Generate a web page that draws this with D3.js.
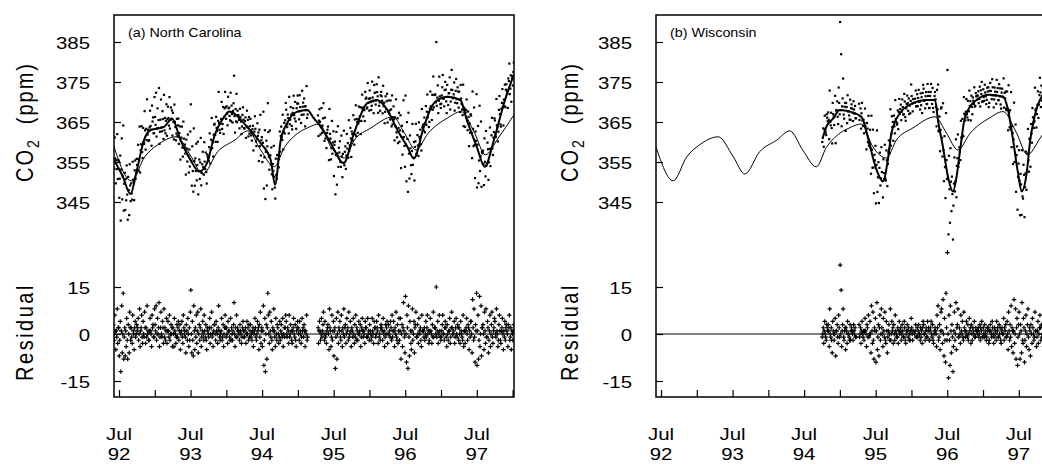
<!DOCTYPE html>
<html>
<head>
<meta charset="utf-8">
<script src="https://cdn.jsdelivr.net/npm/d3@7"></script>
<style>
  html, body { margin: 0; padding: 0; background: #fff; }
  svg { display: block; font-family: "Liberation Sans", Arial, sans-serif; }
</style>
</head>
<body>
<svg id="chart" width="1042" height="464"></svg>
<script>
const co2Ticks = [345, 355, 365, 375, 385];
const residualTicks = [-15, 0, 15];
const axisTimes = [1992.5, 1993, 1993.5, 1994, 1994.5, 1995, 1995.5, 1996, 1996.5, 1997, 1997.5, 1998];
const julyTimes = [1992.5, 1993.5, 1994.5, 1995.5, 1996.5, 1997.5];
const yearLabels = ['92', '93', '94', '95', '96', '97'];

// thin reference curve (same in both panels)
const refTime = [1992.43, 1992.67, 1992.86, 1993.04, 1993.30, 1993.51, 1993.67, 1993.88, 1994.12, 1994.30,
  1994.48, 1994.67, 1994.81, 1995.00, 1995.13, 1995.30, 1995.46, 1995.65, 1995.79, 1996.02,
  1996.33, 1996.49, 1996.65, 1996.82, 1997.09, 1997.28, 1997.47, 1997.62, 1997.80, 1998.02];
const refCO2 = [358.8, 350.3, 356.3, 359.3, 361.3, 356.3, 352.0, 357.6, 360.5, 362.8,
  358.0, 353.8, 358.6, 362.2, 363.5, 364.5, 358.8, 356.0, 360.5, 363.5,
  366.3, 362.2, 358.0, 362.2, 366.0, 367.6, 362.2, 356.8, 361.0, 366.8];

// fitted curve, North Carolina
const ncFitTime = [1992.43, 1992.55, 1992.66, 1992.75, 1992.85, 1992.94, 1993.13, 1993.24, 1993.36, 1993.50,
  1993.62, 1993.73, 1993.83, 1993.97, 1994.04, 1994.29, 1994.48, 1994.62, 1994.68, 1994.76,
  1994.85, 1994.99, 1995.13, 1995.22, 1995.32, 1995.46, 1995.64, 1995.78, 1995.97, 1996.11,
  1996.25, 1996.39, 1996.53, 1996.62, 1996.76, 1996.90, 1997.09, 1997.27, 1997.36, 1997.50,
  1997.61, 1997.74, 1997.88, 1998.02];
const ncFitCO2 = [355.5, 351.5, 347.0, 353.0, 360.5, 363.0, 363.8, 365.9, 360.5, 355.5,
  352.6, 354.7, 361.3, 366.3, 367.6, 363.8, 359.7, 355.5, 349.3, 360.5,
  364.7, 367.6, 368.0, 366.0, 363.8, 359.7, 354.7, 362.0, 369.7, 370.5,
  368.0, 363.0, 358.8, 355.9, 363.8, 369.7, 371.3, 370.5, 365.5, 358.8,
  353.8, 360.5, 369.7, 377.0];

// fitted curve, Wisconsin
const wiFitTime = [1994.76, 1994.81, 1994.90, 1995.00, 1995.14, 1995.30, 1995.40, 1995.47, 1995.53, 1995.60,
  1995.67, 1995.72, 1995.84, 1996.02, 1996.21, 1996.33, 1996.37, 1996.44, 1996.51, 1996.58,
  1996.63, 1996.68, 1996.75, 1996.91, 1997.09, 1997.28, 1997.35, 1997.42, 1997.49, 1997.54,
  1997.61, 1997.66, 1997.72, 1997.82, 1998.02];
const wiFitCO2 = [361.0, 363.8, 365.8, 368.0, 367.6, 366.3, 360.5, 355.5, 352.2, 350.1,
  355.5, 362.2, 367.2, 369.7, 370.5, 370.5, 365.5, 358.8, 351.3, 347.6,
  351.3, 358.0, 366.3, 370.5, 371.8, 371.3, 368.0, 360.5, 352.2, 347.6,
  352.2, 360.5, 366.3, 371.3, 374.0];

// residuals (ppm), 12 readings per month, null = no reading
const ncFirstMonth = [1992, 6];
const ncResidual = [
  [3, 0, -2, 6, 1, -5, 1, -1, 8, -3, 2, 2], [-7, -2, 4, -12, 1, 9, -6, 0, 13, -8, -1, 2],
  [-7, 1, -4, 5, -2, -8, 3, 0, -6, 7, 2, -2], [2, -1, -3, 6, 1, 0, -5, 2, 4, -1, 0, 3],
  [1, 2, 5, -2, 0, 8, -4, 1, 2, 6, -1, -3], [4, 0, -1, 7, 2, -3, 2, -1, 9, 0, 1, -2],
  [-2, 1, 5, 1, 0, -4, 6, 2, 3, -1, -1, 8],
  // 1993
  [3, 1, 9, -2, 0, 5, 0, 2, 10, -4, -1, 2], [7, 0, -1, 4, 2, -3, 8, -1, 2, -2, 1, 5],
  [-3, 1, 4, 1, -1, 6, -2, 0, 3, 0, 2, -4], [2, 0, -4, 5, 1, 0, -3, -1, 3, -1, 2, 4],
  [-2, 1, 3, -5, 0, 1, 4, -1, -3, 6, 2, 0], [1, -1, -6, 3, 1, -2, 5, 0, -4, 2, -2, 7],
  [14, 0, -6, 4, -2, -7, 9, 1, -5, 2, -1, 6], [-3, 1, 7, -6, 0, 3, -2, 2, 8, -4, -1, 1],
  [4, 0, -2, 6, 1, -1, 3, -2, -5, 2, 1, 0], [-1, 2, 5, -3, 0, 2, 7, -1, 0, -4, 1, 3],
  [3, 0, -2, 4, 1, 0, -3, 2, 9, 1, -1, -2], [0, 1, 5, -2, -1, 3, -4, 0, 2, 6, 2, -1],
  // 1994
  [2, 0, -3, 4, 1, 1, -1, -2, 5, -2, 2, 0], [-2, 1, 3, 10, 0, -4, 2, -1, 6, -1, 2, 1],
  [1, 0, -2, 3, 1, 0, -3, -1, 2, 4, 1, -1], [-1, 1, 2, -3, 0, 4, 0, 2, -2, 3, -1, 1],
  [3, -1, 0, -2, 1, 2, -4, 0, 1, 5, 2, -1], [-2, 0, 4, 1, 2, -5, 3, -1, 7, -3, 1, 2],
  [-4, 1, 9, -10, -2, 5, -12, 0, 3, -8, 2, 13], [6, 0, -3, 7, 1, -1, 4, -2, -5, 2, 1, 8],
  [1, -1, -4, 5, 0, -2, 3, 2, 0, -3, -1, 4], [-2, 1, 3, 0, -1, 5, -4, 0, 2, -1, 2, 6],
  [4, 0, -1, 2, 1, -3, 6, -1, 0, 3, 1, -2], [-3, 1, 2, 5, 0, -1, 3, -2, -4, 1, 2, 4],
  // 1995
  [2, 0, -2, 4, 1, 0, -3, -1, 5, 1, 2, -1], [3, 1, -4, 1, 0, 6, -2, -1, null, null, null, null],
  [null, null, null, null, null, null, null, null, null, null, null, null],
  [null, null, null, null, 2, -3, 1, 4, 1, -2, 0, 5],
  [-1, 1, 3, 7, 0, -2, 4, -1, 0, -3, 1, 2], [3, 0, -5, 8, 2, 1, -4, -1, 6, -2, 1, 4],
  [-7, 1, 2, -11, -1, 5, -8, 0, 7, -3, 2, 1], [4, -1, -2, 6, 1, -4, 2, 0, 8, -1, 2, 3],
  [-3, 0, 5, 1, 2, -2, 7, -1, 0, 4, 1, -4], [2, 1, -1, 5, 0, -3, 3, -1, 6, -2, 2, 1],
  [-2, 0, 4, 0, 1, 3, -4, -1, 2, 5, 1, -1], [1, 0, -3, 4, 2, 2, -1, -1, 5, 0, 1, -2],
  // 1996
  [3, 1, 0, -2, -1, 5, 1, 0, -3, 4, 2, 2], [-1, 0, 4, 2, 1, -3, 6, -1, 0, -2, 2, 3],
  [2, 1, -2, 5, 0, 1, -4, -1, 3, 0, 2, 4], [-3, 0, 3, 0, 1, -1, 4, 2, -2, 6, -1, 1],
  [4, 1, -4, 2, 0, 7, -1, -2, 3, -3, 1, 5], [-2, 1, 5, -8, 0, 3, -4, 2, 10, 1, -1, -6],
  [12, 0, -9, 6, 2, -11, 9, -1, -7, 4, 1, -3], [-5, 1, 8, -2, 0, 4, -6, 2, 3, 7, -1, -1],
  [3, 0, -3, 5, 1, 0, 2, -2, -4, 6, 1, 1], [1, -1, 2, -2, 0, 4, -1, 2, 6, 0, 1, -3],
  [-2, 1, 5, 1, 0, -3, 3, -1, 7, -1, 2, 2], [2, 0, 15, -1, 1, 4, -3, 0, 6, 1, -1, -2],
  // 1997
  [-1, 1, 3, 6, 0, 0, -2, 2, 4, 2, -1, -4], [3, 0, -2, 1, 1, 5, -3, -1, 2, 7, 2, 0],
  [0, 1, 4, -3, -1, 2, 5, 0, -1, 3, 2, -2], [2, 0, -3, 4, 1, 0, -1, -2, 6, -4, 1, 1],
  [-3, 1, 2, 5, 0, -2, 3, 2, -5, 1, -1, 4], [4, 0, -6, 11, 2, -2, 8, -1, -9, 3, 1, 13],
  [-10, 1, 6, -8, -2, 12, -4, 0, 9, -7, 2, 2], [3, 0, -5, 7, 1, -3, 8, -1, -1, 4, 2, -6],
  [-2, 1, 6, -4, 0, 3, 7, -1, -3, 1, 2, 5], [4, 0, -1, 8, 1, 0, -4, -2, 3, 6, 1, -2],
  [-3, 1, 2, 5, 0, -5, 1, -1, 4, -2, 2, 3], [1, 0, -4, 3, 2, 6, -2, -1, 2, -5, 1, 0],
  // 1998
  [-2, 1, 3, null, null, null, null, null, null, null, null, null]
];

const wiFirstMonth = [1994, 10];
const wiResidual = [
  [-1, 0, 2, -3, 1, 4, 0, -1, -2, 3, 2, 1], [3, 1, -4, 8, 0, -1, 2, -2, -6, 4, 1, 0],
  [-2, 0, 5, -7, 1, 1, 3, -1, -3, 6, 2, -1],
  // 1995
  [22, 0, 14, -4, 1, 3, 8, -1, -2, 1, 2, -5], [2, 1, -3, 4, 0, 0, -1, -2, 3, -2, 1, 2],
  [1, 0, -2, 3, 1, 0, 2, -1, -1, null, null, null], [null, null, 3, -1, 0, 2, -3, 1, 4, 0, -1, 1],
  [-2, 1, 5, 1, 0, -4, 3, 2, -1, 6, -1, 0], [4, 0, -6, 9, 1, -3, 7, -2, -8, 2, 1, 5],
  [-9, 1, 10, -5, -1, 3, -7, 2, 6, -2, 0, 8], [2, 0, -4, 5, 1, -1, 7, -2, -3, 4, 1, -6],
  [-1, 1, 3, 0, -2, 8, -2, 0, 4, 1, 2, -3], [3, 0, -2, 6, 1, 0, -1, -1, 2, -3, 1, 4],
  [0, 1, 2, -2, 0, 3, 1, -1, -1, 4, 2, -2], [-3, 0, 1, 3, 1, -1, 2, -2, 0, -2, 1, 5],
  // 1996
  [2, 0, -2, 1, null, null, 0, 1, 3, -1, -1, 2], [-1, 1, 3, 0, 0, -2, 2, -1, 1, -3, 2, 4],
  [3, 0, 0, -2, 1, 2, -1, -1, 4, 1, 2, -2], [-2, 1, 2, 4, 0, -1, 3, -2, -3, 0, 1, 2],
  [1, 0, -4, 6, 2, 9, -2, -1, 3, -5, 1, 7], [8, 1, -3, 11, 0, -7, 5, -2, -9, 13, 2, -2],
  [26, 0, -14, 6, -2, -10, 9, 1, -6, 3, -1, -12], [-4, 1, 7, -2, 0, 10, -5, 2, 3, 8, -1, -1],
  [2, 0, -3, 6, 1, 0, 4, -1, -2, 7, 2, 1], [-1, 1, 4, 0, -1, 3, -2, 0, 5, 1, 2, -3],
  [3, 0, -2, 2, 1, 0, 4, -1, -1, 2, 1, 1], [0, 1, 2, -1, 0, 3, -2, 2, 1, 4, -1, -1],
  // 1997
  [2, 0, -1, 3, 1, 0, -2, -1, 2, 1, 2, -3], [-2, 1, 3, 1, 0, -1, 4, 2, 0, -3, -1, 2],
  [1, 0, -2, 4, 1, 2, -1, -1, 3, 0, 2, -2], [-3, 1, 2, 0, 0, 5, -2, 2, 1, 3, -1, -1],
  [4, 0, -5, 7, 1, -2, 3, -1, 9, -4, 2, 1], [-6, 1, 11, -3, 0, 8, -8, 2, 5, -10, -1, 3],
  [7, 0, -8, 3, 1, -6, 10, -2, -3, 5, 2, -9], [-2, 1, 6, -4, 0, 3, 8, -1, -5, 2, 1, -7],
  [3, 0, -3, 5, 2, 0, -2, -1, 7, 1, 1, -4], [-1, 1, 4, -3, 0, 2, 6, 2, -2, 3, -1, 0],
  [2, 0, -4, 1, 1, 5, -1, -2, 3, -3, 2, 4], [-3, 1, 2, 6, 0, -2, 1, -1, -5, 3, 2, 0],
  // 1998
  [1, 0, -2, 3, 1, 0, null, null, null, null, null, null]
];

const panels = [
  { id: 'nc', left: 114, title: '(a) North Carolina', fitTime: ncFitTime, fitCO2: ncFitCO2,
    firstMonth: ncFirstMonth, residual: ncResidual, titleX: -81 },
  { id: 'wi', left: 656, title: '(b) Wisconsin', fitTime: wiFitTime, fitCO2: wiFitCO2,
    firstMonth: wiFirstMonth, residual: wiResidual, titleX: -78 }
];

const W = 400, TOP = 15, BOTTOM = 397;
const STRETCH = 'scale(1.2,1)';
const svg = d3.select('#chart');

const x = d3.scaleLinear().domain([1992.43, 1998.02]).range([0, W]);
const yCO2 = d3.scaleLinear().domain([345, 385]).range([202, 42]);
const yRes = d3.scaleLinear().domain([-15, 15]).range([381, 287]);

panels.forEach(p => {
  const g = svg.append('g').attr('transform', `translate(${p.left},0)`);

  g.append('clipPath').attr('id', 'clip-' + p.id)
    .append('rect').attr('x', 0).attr('y', TOP).attr('width', W).attr('height', BOTTOM - TOP);

  // observations: fitted value + residual
  const fitAt = d3.scaleLinear().domain(p.fitTime).range(p.fitCO2).clamp(true);
  const t0 = p.firstMonth[0] + (p.firstMonth[1] - 1) / 12;
  const obs = [];
  p.residual.forEach((row, i) => {
    row.forEach((r, k) => {
      if (r === null) return;
      const t = t0 + (i + (k + 0.5) / row.length) / 12;
      obs.push({ t, r, co2: fitAt(t) + r });
    });
  });

  const plot = g.append('g').attr('clip-path', `url(#clip-${p.id})`);

  // zero line for residuals
  plot.append('line')
    .attr('x1', 0).attr('x2', W)
    .attr('y1', yRes(0)).attr('y2', yRes(0))
    .attr('stroke', '#000').attr('stroke-width', 1);

  // CO2 dots
  plot.append('g').selectAll('rect')
    .data(obs).join('rect')
    .attr('x', d => x(d.t) - 1.1)
    .attr('y', d => yCO2(d.co2) - 1.1)
    .attr('width', 2.2).attr('height', 2.2)
    .attr('fill', '#000');

  // residual crosses
  plot.append('g').selectAll('path')
    .data(obs).join('path')
    .attr('d', d => `M${x(d.t) - 2.2},${yRes(d.r)}h4.4M${x(d.t)},${yRes(d.r) - 2.2}v4.4`)
    .attr('stroke', '#000').attr('stroke-width', 1.2);

  const line = d3.line().curve(d3.curveMonotoneX);

  // thin reference curve
  plot.append('path')
    .attr('d', line(refTime.map((t, i) => [x(t), yCO2(refCO2[i])])))
    .attr('fill', 'none').attr('stroke', '#000').attr('stroke-width', 1);

  // bold fitted curve
  plot.append('path')
    .attr('d', line(p.fitTime.map((t, i) => [x(t), yCO2(p.fitCO2[i])])))
    .attr('fill', 'none').attr('stroke', '#000').attr('stroke-width', 2)
    .attr('stroke-linejoin', 'round');

  // frame
  g.append('rect')
    .attr('x', 0).attr('y', TOP).attr('width', W).attr('height', BOTTOM - TOP)
    .attr('fill', 'none').attr('stroke', '#000').attr('stroke-width', 1.5);

  // left axes
  [[yCO2, co2Ticks], [yRes, residualTicks]].forEach(([scale, ticks]) => {
    const ax = g.append('g')
      .call(d3.axisLeft(scale).tickValues(ticks).tickSize(-7).tickPadding(0).tickFormat(d => String(d)))
      .attr('font-family', null).attr('font-size', null);
    ax.select('.domain').remove();
    ax.selectAll('line').attr('stroke-width', 1.2);
    ax.selectAll('text')
      .attr('x', null).attr('dy', '0.36em')
      .attr('transform', `translate(-24,0) ${STRETCH}`)
      .attr('font-size', 17).attr('fill', '#000');
  });

  // bottom axis
  const bx = g.append('g').attr('transform', `translate(0,${BOTTOM})`)
    .call(d3.axisBottom(x).tickValues(axisTimes).tickSize(-7).tickFormat(''));
  bx.select('.domain').remove();
  bx.selectAll('line').attr('stroke-width', 1.2);

  const lab = g.append('g').attr('font-size', 17).attr('text-anchor', 'middle');
  julyTimes.forEach((t, i) => {
    lab.append('text').attr('transform', `translate(${x(t)},440) ${STRETCH}`).text('Jul');
    lab.append('text').attr('transform', `translate(${x(t)},460) ${STRETCH}`).text(yearLabels[i]);
  });

  // panel title
  g.append('text')
    .attr('transform', `translate(14,36.5) scale(1.1,1)`)
    .attr('font-size', 13).text(p.title);

  // y titles
  const co2Title = g.append('text')
    .attr('transform', `translate(${p.titleX},122) ${STRETCH} rotate(-90)`)
    .attr('text-anchor', 'middle').attr('font-size', 20).attr('letter-spacing', 2);
  co2Title.append('tspan').text('CO');
  co2Title.append('tspan').attr('font-size', 14).attr('dy', 5).text('2');
  co2Title.append('tspan').attr('dy', -5).attr('dx', 14).text('(ppm)');

  g.append('text')
    .attr('transform', `translate(${p.titleX},332) ${STRETCH} rotate(-90)`)
    .attr('text-anchor', 'middle').attr('font-size', 20).attr('letter-spacing', 2.5)
    .text('Residual');
});
</script>
</body>
</html>
